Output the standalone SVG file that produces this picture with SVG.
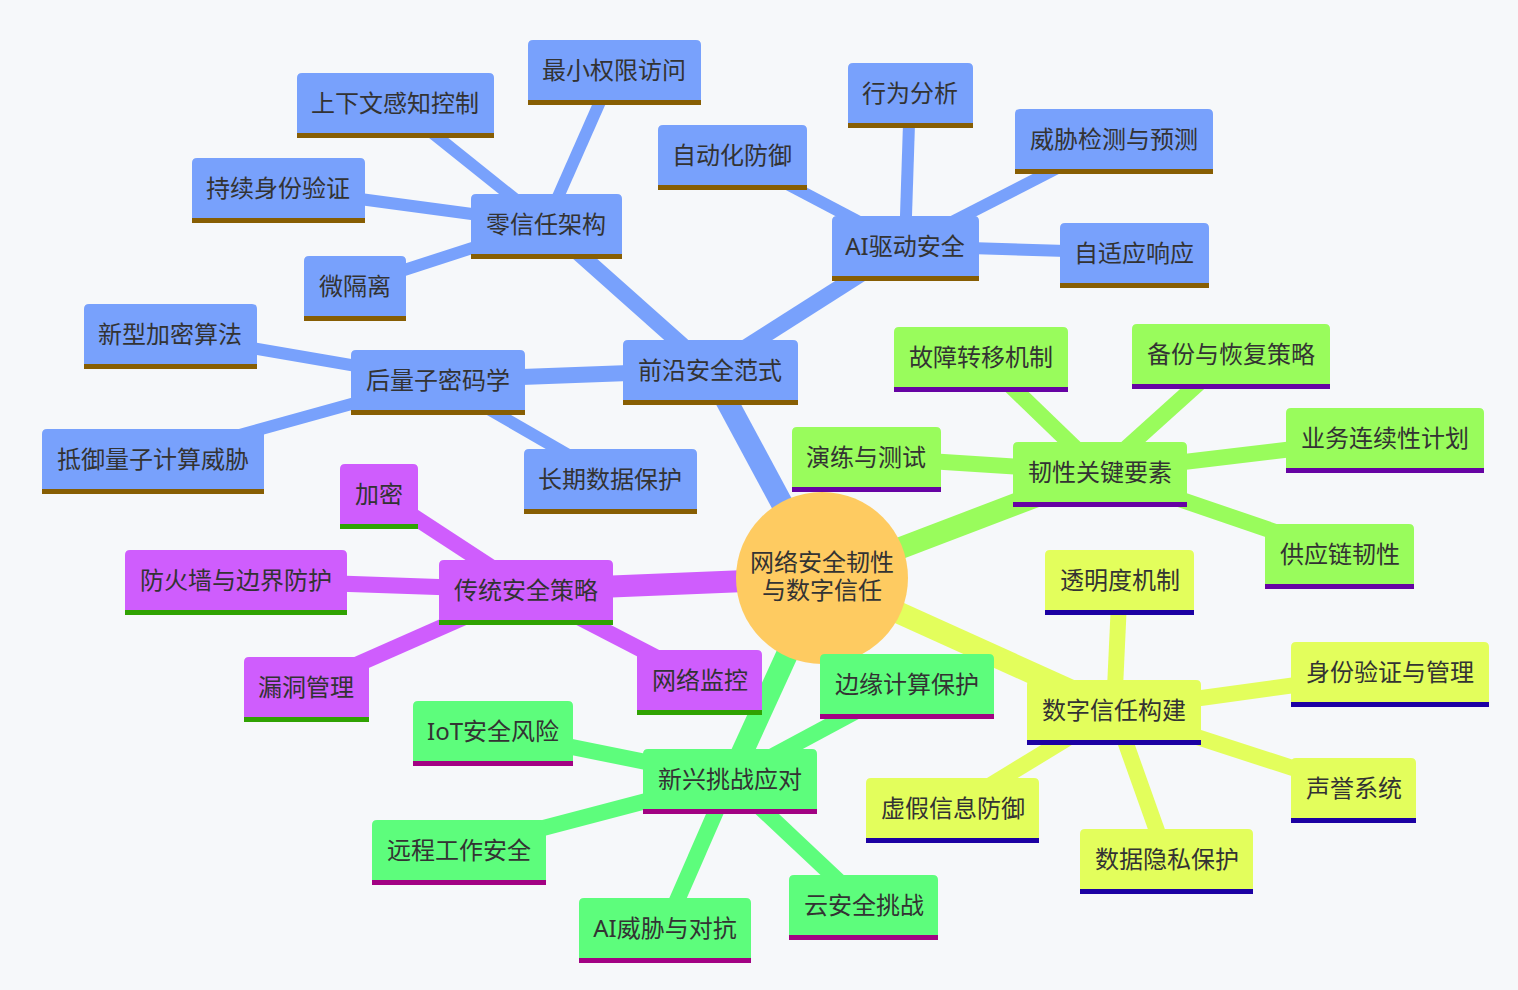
<svg xmlns="http://www.w3.org/2000/svg" width="1518" height="990" viewBox="0 0 1518 990">
<style>
text{font-family:"Noto Sans","Noto Sans CJK SC",sans-serif;font-size:24px;fill:#333;text-anchor:middle}
.e0{stroke-width:22;fill:none}
.e1{stroke-width:16;fill:none}
.e2{stroke-width:12;fill:none}
.sb{stroke:#78a1fc}.fb{fill:#78a1fc}.ub{fill:#875e03}
.sl{stroke:#99fc5c}.fl{fill:#99fc5c}.ul{fill:#6603a3}
.sy{stroke:#e3fe5c}.fy{fill:#e3fe5c}.uy{fill:#1c01a3}
.sg{stroke:#5dfd7c}.fg{fill:#5dfd7c}.ug{fill:#a20283}
.sp{stroke:#cf5dfd}.fp{fill:#cf5dfd}.up{fill:#30a202}
</style>
<rect width="1518" height="990" fill="#f6f8fa"/>
<g id="connectors">
<line class="e0 sb" x1="822" y1="578" x2="710" y2="370"/>
<line class="e0 sl" x1="822" y1="578" x2="1100" y2="472"/>
<line class="e0 sy" x1="822" y1="578" x2="1114" y2="710"/>
<line class="e0 sg" x1="822" y1="578" x2="730" y2="779"/>
<line class="e0 sp" x1="822" y1="578" x2="526" y2="590"/>
<line class="e1 sb" x1="710" y1="370" x2="546" y2="224"/>
<line class="e1 sb" x1="710" y1="370" x2="905" y2="246"/>
<line class="e1 sb" x1="710" y1="370" x2="438" y2="380"/>
<line class="e2 sb" x1="546" y1="224" x2="614" y2="70"/>
<line class="e2 sb" x1="546" y1="224" x2="395" y2="103"/>
<line class="e2 sb" x1="546" y1="224" x2="278" y2="188"/>
<line class="e2 sb" x1="546" y1="224" x2="355" y2="286"/>
<line class="e2 sb" x1="905" y1="246" x2="732" y2="155"/>
<line class="e2 sb" x1="905" y1="246" x2="910" y2="93"/>
<line class="e2 sb" x1="905" y1="246" x2="1114" y2="139"/>
<line class="e2 sb" x1="905" y1="246" x2="1134" y2="253"/>
<line class="e2 sb" x1="438" y1="380" x2="170" y2="334"/>
<line class="e2 sb" x1="438" y1="380" x2="153" y2="459"/>
<line class="e2 sb" x1="438" y1="380" x2="610" y2="479"/>
<line class="e1 sl" x1="1100" y1="472" x2="981" y2="357"/>
<line class="e1 sl" x1="1100" y1="472" x2="1231" y2="354"/>
<line class="e1 sl" x1="1100" y1="472" x2="1385" y2="438"/>
<line class="e1 sl" x1="1100" y1="472" x2="1340" y2="554"/>
<line class="e1 sl" x1="1100" y1="472" x2="866" y2="457"/>
<line class="e1 sy" x1="1114" y1="710" x2="1120" y2="580"/>
<line class="e1 sy" x1="1114" y1="710" x2="1390" y2="672"/>
<line class="e1 sy" x1="1114" y1="710" x2="1354" y2="788"/>
<line class="e1 sy" x1="1114" y1="710" x2="1167" y2="859"/>
<line class="e1 sy" x1="1114" y1="710" x2="953" y2="808"/>
<line class="e1 sg" x1="730" y1="779" x2="907" y2="684"/>
<line class="e1 sg" x1="730" y1="779" x2="493" y2="731"/>
<line class="e1 sg" x1="730" y1="779" x2="459" y2="850"/>
<line class="e1 sg" x1="730" y1="779" x2="665" y2="928"/>
<line class="e1 sg" x1="730" y1="779" x2="864" y2="905"/>
<line class="e1 sp" x1="526" y1="590" x2="379" y2="494"/>
<line class="e1 sp" x1="526" y1="590" x2="236" y2="580"/>
<line class="e1 sp" x1="526" y1="590" x2="306" y2="687"/>
<line class="e1 sp" x1="526" y1="590" x2="700" y2="680"/>
</g>
<g id="root">
<circle cx="822" cy="578" r="86" fill="#fecb61"/>
<text x="822" y="571">网络安全韧性<tspan x="822" y="599">与数字信任</tspan></text>
</g>
<g id="n-qianyan"><path class="fb" d="M623 400V345Q623 340 628 340H793Q798 340 798 345V400Z"/><rect class="ub" x="623" y="400" width="175" height="5"/><text x="710" y="379">前沿安全范式</text></g>
<g id="n-lingxinren"><path class="fb" d="M471 254V199Q471 194 476 194H617Q622 194 622 199V254Z"/><rect class="ub" x="471" y="254" width="151" height="5"/><text x="546" y="233">零信任架构</text></g>
<g id="n-zuixiao"><path class="fb" d="M528 100V45Q528 40 533 40H696Q701 40 701 45V100Z"/><rect class="ub" x="528" y="100" width="173" height="5"/><text x="614" y="79">最小权限访问</text></g>
<g id="n-shangxiawen"><path class="fb" d="M297 133V78Q297 73 302 73H489Q494 73 494 78V133Z"/><rect class="ub" x="297" y="133" width="197" height="5"/><text x="395" y="112">上下文感知控制</text></g>
<g id="n-chixu"><path class="fb" d="M192 218V163Q192 158 197 158H360Q365 158 365 163V218Z"/><rect class="ub" x="192" y="218" width="173" height="5"/><text x="278" y="197">持续身份验证</text></g>
<g id="n-weigeli"><path class="fb" d="M304 316V261Q304 256 309 256H401Q406 256 406 261V316Z"/><rect class="ub" x="304" y="316" width="102" height="5"/><text x="355" y="295">微隔离</text></g>
<g id="n-ai"><path class="fb" d="M832 276V221Q832 216 837 216H974Q979 216 979 221V276Z"/><rect class="ub" x="832" y="276" width="147" height="5"/><text x="905" y="255">AI驱动安全</text></g>
<g id="n-zidonghua"><path class="fb" d="M658 185V130Q658 125 663 125H802Q807 125 807 130V185Z"/><rect class="ub" x="658" y="185" width="149" height="5"/><text x="732" y="164">自动化防御</text></g>
<g id="n-xingwei"><path class="fb" d="M848 123V68Q848 63 853 63H968Q973 63 973 68V123Z"/><rect class="ub" x="848" y="123" width="125" height="5"/><text x="910" y="102">行为分析</text></g>
<g id="n-weixie"><path class="fb" d="M1015 169V114Q1015 109 1020 109H1208Q1213 109 1213 114V169Z"/><rect class="ub" x="1015" y="169" width="198" height="5"/><text x="1114" y="148">威胁检测与预测</text></g>
<g id="n-zishiying"><path class="fb" d="M1060 283V228Q1060 223 1065 223H1204Q1209 223 1209 228V283Z"/><rect class="ub" x="1060" y="283" width="149" height="5"/><text x="1134" y="262">自适应响应</text></g>
<g id="n-houliangzi"><path class="fb" d="M351 410V355Q351 350 356 350H520Q525 350 525 355V410Z"/><rect class="ub" x="351" y="410" width="174" height="5"/><text x="438" y="389">后量子密码学</text></g>
<g id="n-xinxing"><path class="fb" d="M84 364V309Q84 304 89 304H252Q257 304 257 309V364Z"/><rect class="ub" x="84" y="364" width="173" height="5"/><text x="170" y="343">新型加密算法</text></g>
<g id="n-diyu"><path class="fb" d="M42 489V434Q42 429 47 429H259Q264 429 264 434V489Z"/><rect class="ub" x="42" y="489" width="222" height="5"/><text x="153" y="468">抵御量子计算威胁</text></g>
<g id="n-changqi"><path class="fb" d="M524 509V454Q524 449 529 449H692Q697 449 697 454V509Z"/><rect class="ub" x="524" y="509" width="173" height="5"/><text x="610" y="488">长期数据保护</text></g>
<g id="n-renxing"><path class="fl" d="M1013 502V447Q1013 442 1018 442H1182Q1187 442 1187 447V502Z"/><rect class="ul" x="1013" y="502" width="174" height="5"/><text x="1100" y="481">韧性关键要素</text></g>
<g id="n-guzhang"><path class="fl" d="M894 387V332Q894 327 899 327H1063Q1068 327 1068 332V387Z"/><rect class="ul" x="894" y="387" width="174" height="5"/><text x="981" y="366">故障转移机制</text></g>
<g id="n-beifen"><path class="fl" d="M1132 384V329Q1132 324 1137 324H1325Q1330 324 1330 329V384Z"/><rect class="ul" x="1132" y="384" width="198" height="5"/><text x="1231" y="363">备份与恢复策略</text></g>
<g id="n-yewu"><path class="fl" d="M1286 468V413Q1286 408 1291 408H1479Q1484 408 1484 413V468Z"/><rect class="ul" x="1286" y="468" width="198" height="5"/><text x="1385" y="447">业务连续性计划</text></g>
<g id="n-gongying"><path class="fl" d="M1265 584V529Q1265 524 1270 524H1409Q1414 524 1414 529V584Z"/><rect class="ul" x="1265" y="584" width="149" height="5"/><text x="1340" y="563">供应链韧性</text></g>
<g id="n-yanlian"><path class="fl" d="M792 487V432Q792 427 797 427H936Q941 427 941 432V487Z"/><rect class="ul" x="792" y="487" width="149" height="5"/><text x="866" y="466">演练与测试</text></g>
<g id="n-shuzi"><path class="fy" d="M1027 740V685Q1027 680 1032 680H1196Q1201 680 1201 685V740Z"/><rect class="uy" x="1027" y="740" width="174" height="5"/><text x="1114" y="719">数字信任构建</text></g>
<g id="n-touming"><path class="fy" d="M1045 610V555Q1045 550 1050 550H1189Q1194 550 1194 555V610Z"/><rect class="uy" x="1045" y="610" width="149" height="5"/><text x="1120" y="589">透明度机制</text></g>
<g id="n-shenfen"><path class="fy" d="M1291 702V647Q1291 642 1296 642H1484Q1489 642 1489 647V702Z"/><rect class="uy" x="1291" y="702" width="198" height="5"/><text x="1390" y="681">身份验证与管理</text></g>
<g id="n-shengyu"><path class="fy" d="M1291 818V763Q1291 758 1296 758H1411Q1416 758 1416 763V818Z"/><rect class="uy" x="1291" y="818" width="125" height="5"/><text x="1354" y="797">声誉系统</text></g>
<g id="n-yinsi"><path class="fy" d="M1080 889V834Q1080 829 1085 829H1248Q1253 829 1253 834V889Z"/><rect class="uy" x="1080" y="889" width="173" height="5"/><text x="1167" y="868">数据隐私保护</text></g>
<g id="n-xujia"><path class="fy" d="M866 838V783Q866 778 871 778H1034Q1039 778 1039 783V838Z"/><rect class="uy" x="866" y="838" width="173" height="5"/><text x="953" y="817">虚假信息防御</text></g>
<g id="n-xinxingtz"><path class="fg" d="M643 809V754Q643 749 648 749H812Q817 749 817 754V809Z"/><rect class="ug" x="643" y="809" width="174" height="5"/><text x="730" y="788">新兴挑战应对</text></g>
<g id="n-bianyuan"><path class="fg" d="M820 714V659Q820 654 825 654H989Q994 654 994 659V714Z"/><rect class="ug" x="820" y="714" width="174" height="5"/><text x="907" y="693">边缘计算保护</text></g>
<g id="n-iot"><path class="fg" d="M413 761V706Q413 701 418 701H568Q573 701 573 706V761Z"/><rect class="ug" x="413" y="761" width="160" height="5"/><text x="493" y="740">IoT安全风险</text></g>
<g id="n-yuancheng"><path class="fg" d="M372 880V825Q372 820 377 820H541Q546 820 546 825V880Z"/><rect class="ug" x="372" y="880" width="174" height="5"/><text x="459" y="859">远程工作安全</text></g>
<g id="n-aiweixie"><path class="fg" d="M579 958V903Q579 898 584 898H746Q751 898 751 903V958Z"/><rect class="ug" x="579" y="958" width="172" height="5"/><text x="665" y="937">AI威胁与对抗</text></g>
<g id="n-yun"><path class="fg" d="M789 935V880Q789 875 794 875H933Q938 875 938 880V935Z"/><rect class="ug" x="789" y="935" width="149" height="5"/><text x="864" y="914">云安全挑战</text></g>
<g id="n-chuantong"><path class="fp" d="M439 620V565Q439 560 444 560H608Q613 560 613 565V620Z"/><rect class="up" x="439" y="620" width="174" height="5"/><text x="526" y="599">传统安全策略</text></g>
<g id="n-jiami"><path class="fp" d="M340 524V469Q340 464 345 464H413Q418 464 418 469V524Z"/><rect class="up" x="340" y="524" width="78" height="5"/><text x="379" y="503">加密</text></g>
<g id="n-fanghuo"><path class="fp" d="M125 610V555Q125 550 130 550H342Q347 550 347 555V610Z"/><rect class="up" x="125" y="610" width="222" height="5"/><text x="236" y="589">防火墙与边界防护</text></g>
<g id="n-loudong"><path class="fp" d="M244 717V662Q244 657 249 657H364Q369 657 369 662V717Z"/><rect class="up" x="244" y="717" width="125" height="5"/><text x="306" y="696">漏洞管理</text></g>
<g id="n-jiankong"><path class="fp" d="M637 710V655Q637 650 642 650H757Q762 650 762 655V710Z"/><rect class="up" x="637" y="710" width="125" height="5"/><text x="700" y="689">网络监控</text></g>
</svg>
